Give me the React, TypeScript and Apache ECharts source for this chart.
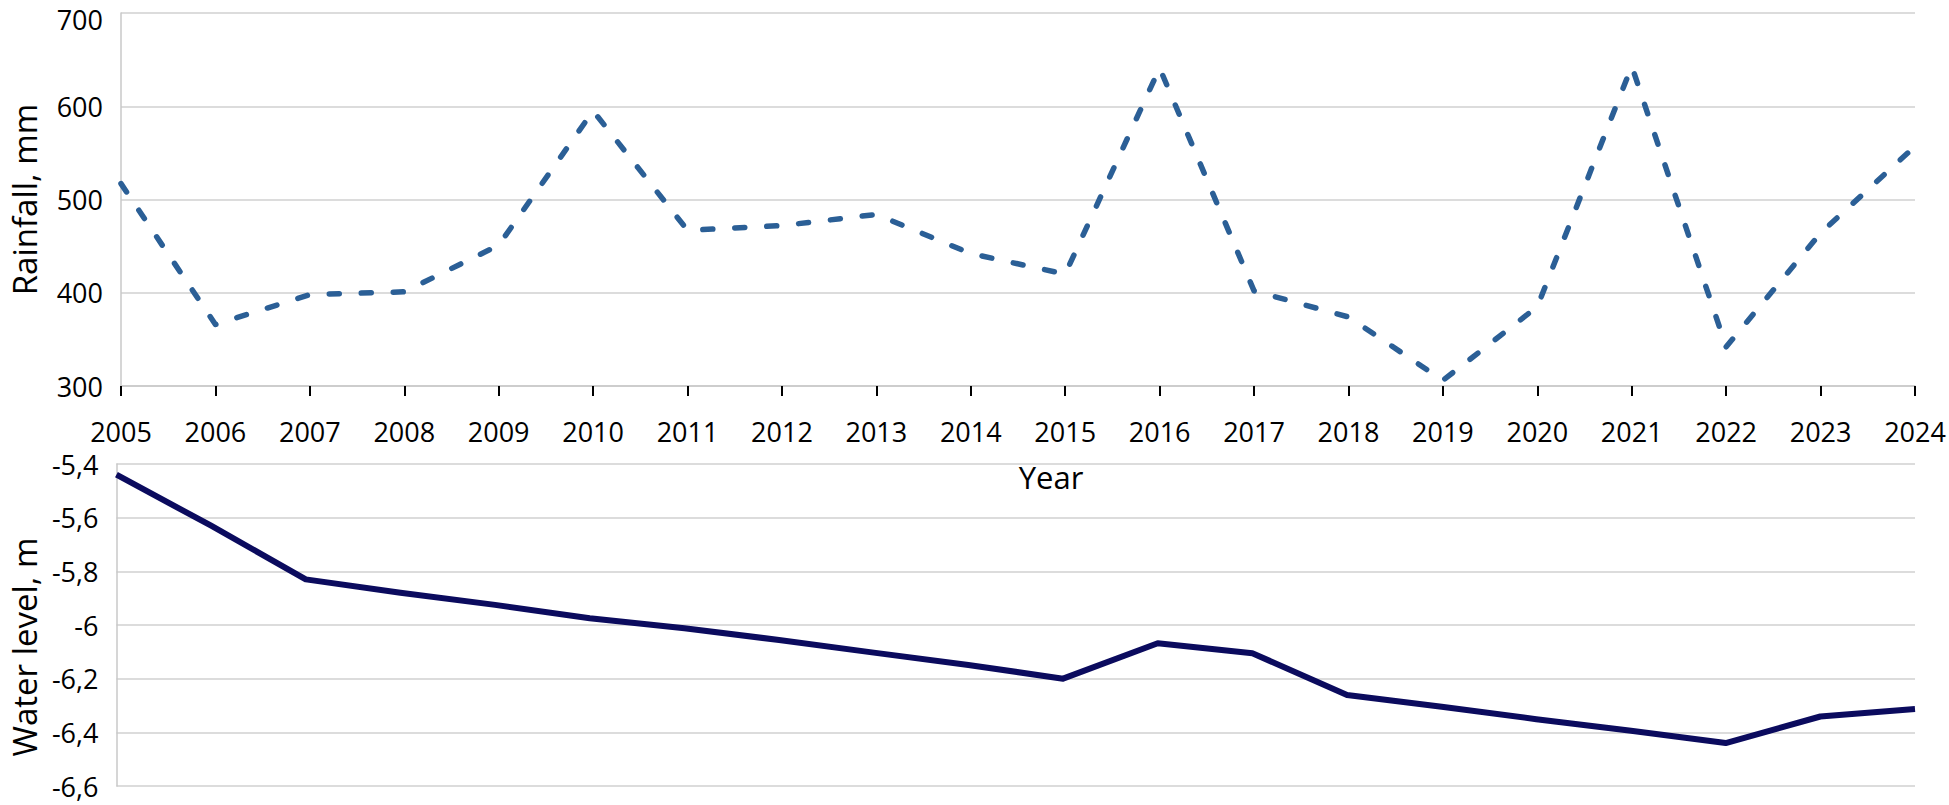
import React, { useEffect, useRef } from "react";
import * as echarts from "echarts";

const years = ["2005","2006","2007","2008","2009","2010","2011","2012","2013","2014","2015","2016","2017","2018","2019","2020","2021","2022","2023","2024"];
const rainfall = [517, 366, 398, 401, 451, 595, 467, 472, 484, 442, 420, 641, 402, 374, 306, 385, 643, 342, 464, 557];
const waterLevel = [-5.44, -5.63, -5.83, -5.88, -5.925, -5.975, -6.012, -6.056, -6.103, -6.149, -6.2, -6.068, -6.105, -6.261, -6.305, -6.351, -6.394, -6.44, -6.341, -6.313];

const FONT = "'Open Sans', 'Noto Sans', sans-serif";
const GRID_COLOR = "#d0d0d0";

export default function App() {
  const ref = useRef<HTMLDivElement>(null);
  useEffect(() => {
    document.body.style.margin = "0";
    if (!ref.current) return;
    const chart = echarts.init(ref.current, undefined, { renderer: "svg" });
    const fmt = (v: number) => String(Math.round(v * 10) / 10).replace(".", ",");
    const fmtTop = (v: number) => (v === 700 ? "{t|700}" : String(v));
    chart.setOption({
      animation: false,
      backgroundColor: "#ffffff",
      textStyle: { fontFamily: FONT },
      grid: [
        { left: 112, right: 34, top: 13, height: 373 },
        { left: 111, right: 34, top: 464, height: 322 },
      ],
      xAxis: [
        {
          type: "category",
          gridIndex: 0,
          data: years,
          boundaryGap: false,
          axisLine: { show: true, lineStyle: { color: "#c8c8c8", width: 1.5 } },
          axisTick: { show: true, inside: false, length: 10, interval: 0, lineStyle: { color: "#000", width: 2 } },
          axisLabel: { interval: 0, margin: 32, fontSize: 27, color: "#000", fontFamily: FONT },
          splitLine: { show: false },
          name: "Year",
          nameLocation: "middle",
          nameGap: 75,
          nameTextStyle: { fontSize: 31, color: "#000", fontFamily: FONT, padding: [0, 0, 0, 66] },
        },
        {
          type: "category",
          gridIndex: 1,
          data: years,
          boundaryGap: false,
          show: false,
        },
      ],
      yAxis: [
        {
          type: "value",
          gridIndex: 0,
          min: 300,
          max: 700,
          interval: 100,
          axisLine: { show: true, lineStyle: { color: "#c8c8c8", width: 1.5 } },
          axisTick: { show: false },
          axisLabel: {
            margin: 18,
            fontSize: 27,
            lineHeight: 22,
            color: "#000",
            fontFamily: FONT,
            formatter: fmtTop,
            rich: { t: { fontSize: 27, fontFamily: FONT, color: "#000", padding: [12, 0, 0, 0] } },
          },
          splitLine: { show: true, lineStyle: { color: GRID_COLOR, width: 1.5 } },
          name: "Rainfall, mm",
          nameLocation: "middle",
          nameGap: 80,
          nameTextStyle: { fontSize: 33, color: "#000", fontFamily: FONT },
        },
        {
          type: "value",
          gridIndex: 1,
          min: -6.6,
          max: -5.4,
          interval: 0.2,
          axisLine: { show: true, lineStyle: { color: "#c8c8c8", width: 1.5 } },
          axisTick: { show: false },
          axisLabel: { margin: 18, fontSize: 27, lineHeight: 22, color: "#000", fontFamily: FONT, formatter: fmt },
          splitLine: { show: true, lineStyle: { color: GRID_COLOR, width: 1.5 } },
          name: "Water level, m",
          nameLocation: "middle",
          nameGap: 74,
          nameTextStyle: { fontSize: 33, color: "#000", fontFamily: FONT, padding: [0, 44, 0, 0] },
        },
      ],
      series: [
        {
          name: "Rainfall",
          type: "line",
          xAxisIndex: 0,
          yAxisIndex: 0,
          data: rainfall,
          symbol: "none",
          lineStyle: { color: "#2b5f96", width: 5.5, type: [10, 22], cap: "round", join: "round" },
        },
        {
          name: "Water level",
          type: "line",
          xAxisIndex: 1,
          yAxisIndex: 1,
          data: waterLevel,
          symbol: "none",
          lineStyle: { color: "#0b0b5e", width: 6, join: "round" },
        },
      ],
    });
    return () => chart.dispose();
  }, []);
  return <div ref={ref} style={{ width: 1949, height: 805 }} />;
}
